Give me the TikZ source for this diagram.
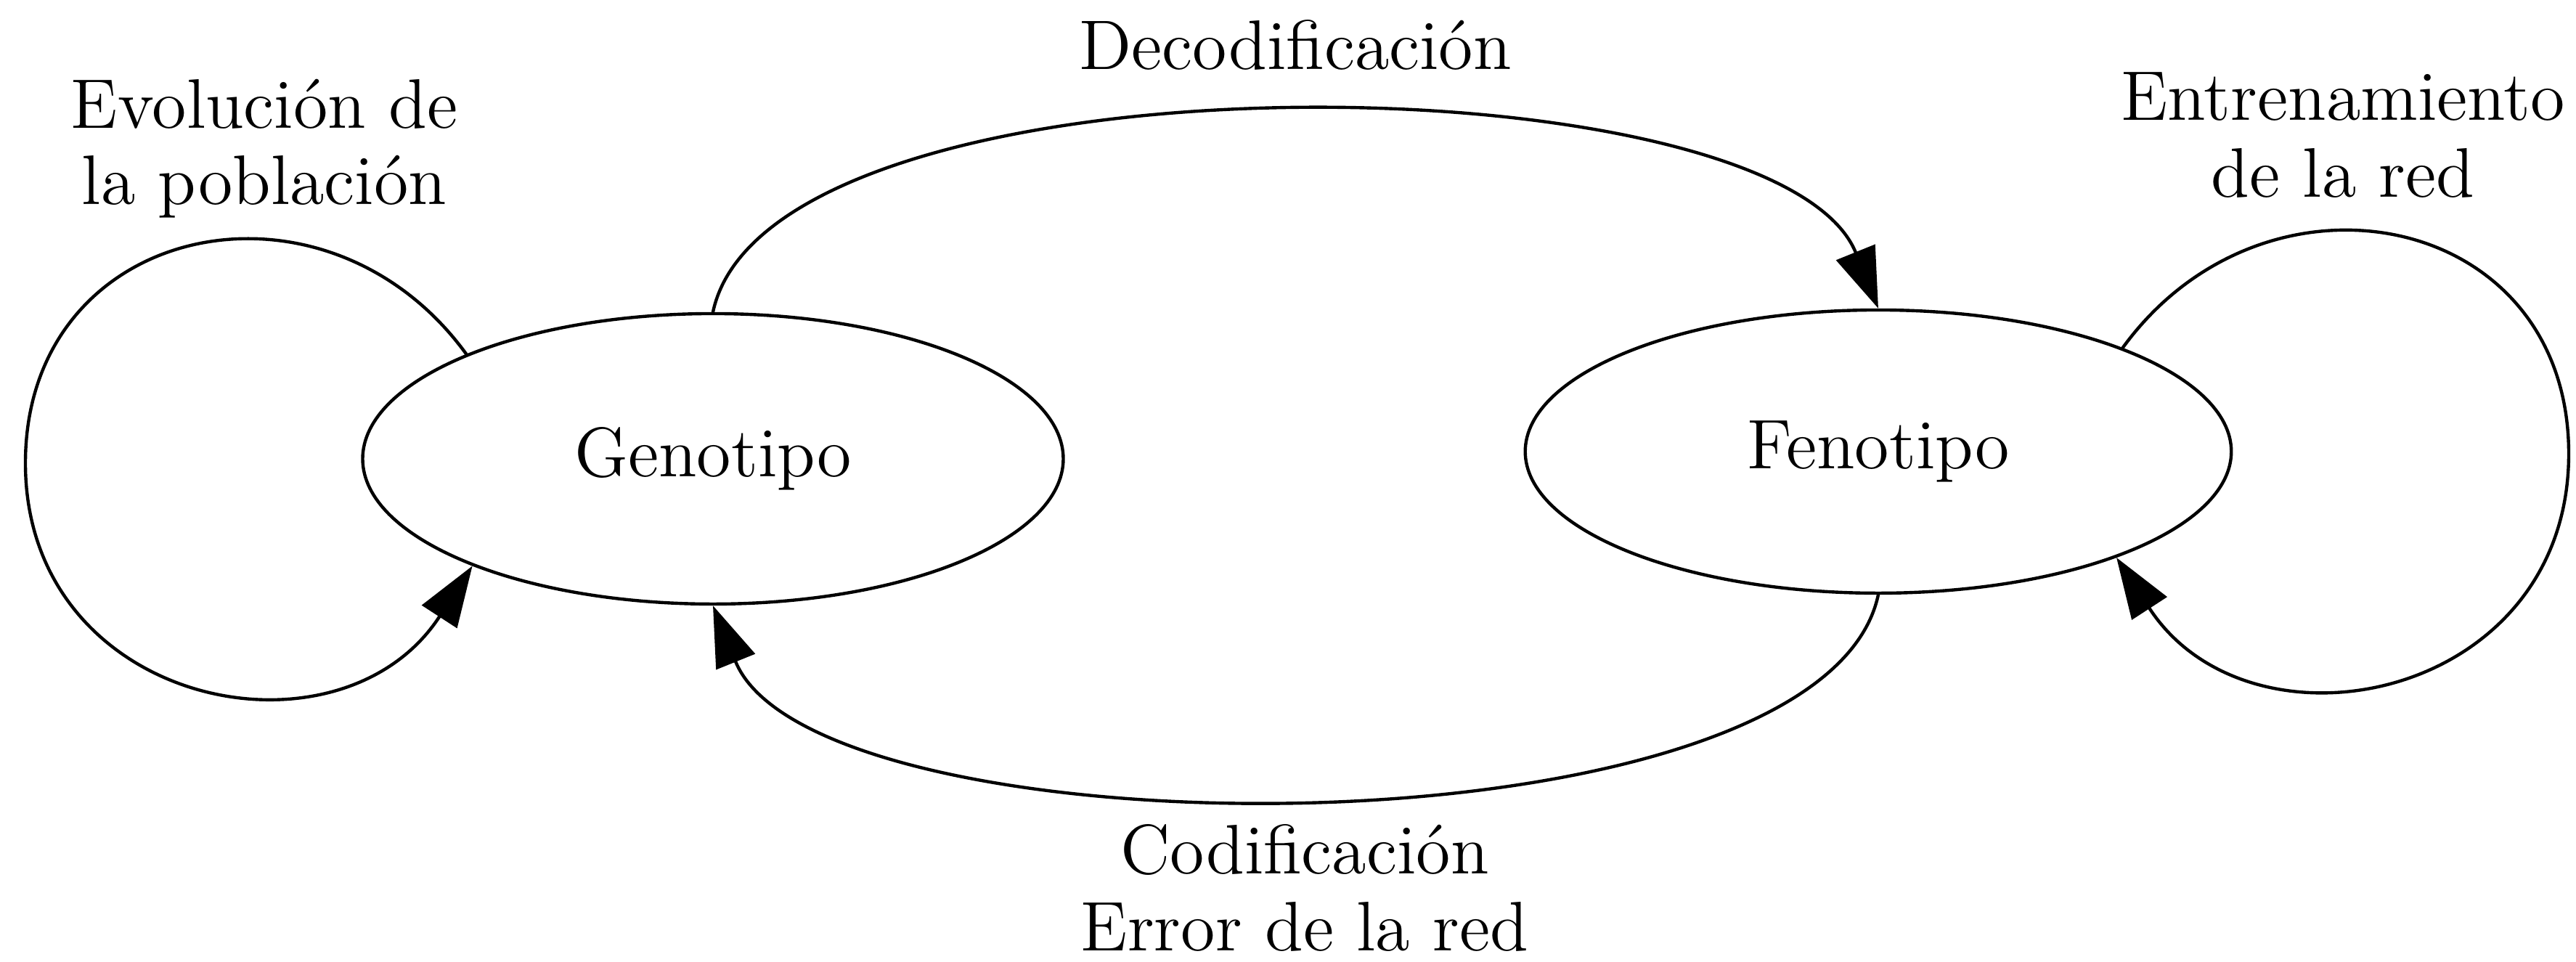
\documentclass[tikz,border=0pt]{standalone}
\usetikzlibrary{shapes.geometric,arrows.meta}
\begin{document}
\begin{tikzpicture}[x=0.4cm,y=0.4cm,line cap=round,line join=round,
  font=\fontsize{11}{12}\selectfont,
  estado/.style={ellipse,draw,line width=0.5pt,inner sep=0pt},
  flecha/.style={line width=0.5pt,-{Triangle[length=9.5pt,width=6.5pt]}},
  etiqueta/.style={align=center,inner sep=0pt}]
  \useasboundingbox (0,0) rectangle (35.48,13.25);
  \node[estado,minimum width=3.86cm,minimum height=1.6cm] (G) at (9.82,6.93) {Genotipo};
  \node[estado,minimum width=3.89cm,minimum height=1.56cm] (F) at (25.87,7.03) {Fenotipo};
  \coordinate (L) at (0.35,6.87);
  \coordinate (R) at (35.38,7.00);
  \draw[flecha] (G.north) to[out=78,in=112,looseness=0.6] (F.north);
  \draw[flecha] (F.south) to[out=258,in=292,looseness=0.6] (G.south);
  \draw[flecha] (G.157) to[out=126,in=90,looseness=1.36] (L)
    to[out=270,in=237,looseness=1.36] (G.204);
  \draw[flecha] (F.23) to[out=54,in=90,looseness=1.36] (R)
    to[out=270,in=303,looseness=1.36] (F.336);
  \node[etiqueta,anchor=base] (deco) at (17.84,12.29) {Decodificación};
  \node[etiqueta] (evol) at (3.64,11.20) {Evolución de\\la población};
  \node[etiqueta] (entr) at (32.27,11.39) {Entrenamiento\\de la red};
  \node[etiqueta] (codi) at (17.97,1.02) {Codificación\\Error de la red};
\end{tikzpicture}
\end{document}
